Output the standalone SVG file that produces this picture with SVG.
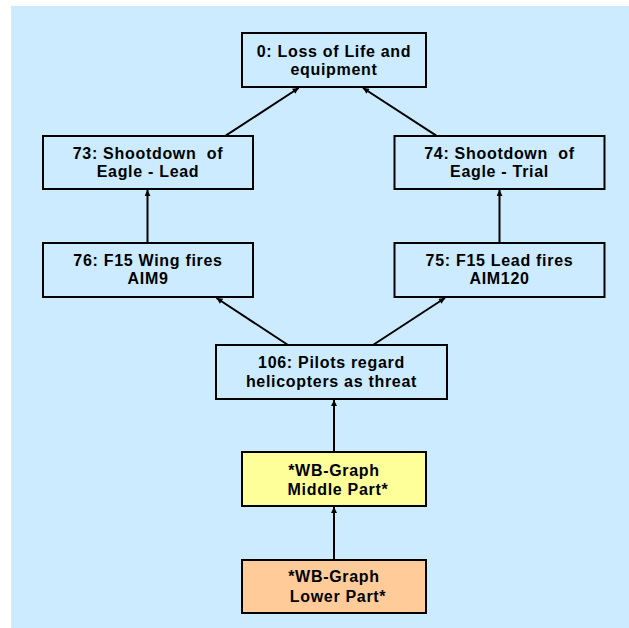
<svg xmlns="http://www.w3.org/2000/svg" width="629" height="628" viewBox="0 0 629 628">
<defs>
<style>
.bg{fill:#CCEBFF}
.box{fill:#CCEBFF;stroke:#000;stroke-width:2}
.yel{fill:#FFFF99;stroke:#000;stroke-width:2}
.org{fill:#FFCC99;stroke:#000;stroke-width:2}
text{font-family:"Liberation Sans",Arial,sans-serif;font-weight:bold;font-size:16px;letter-spacing:0.7px;text-anchor:middle;fill:#000;white-space:pre}
.edge{stroke:#000;stroke-width:2;fill:none;marker-end:url(#ah)}
</style>
<marker id="ah" viewBox="0 0 10 10" refX="10" refY="5" markerWidth="7" markerHeight="6" markerUnits="userSpaceOnUse" orient="auto">
<path d="M0,0 L10,5 L0,10 z" fill="#000"/>
</marker>
</defs>
<rect class="bg" x="11" y="6" width="618" height="622"/>
<g id="connectors">
<line class="edge" x1="225.7" y1="135.7" x2="298.7" y2="88"/>
<line class="edge" x1="436.3" y1="135.7" x2="363" y2="88"/>
<line class="edge" x1="147.5" y1="242.7" x2="147.5" y2="190"/>
<line class="edge" x1="499.5" y1="242.7" x2="499.5" y2="190"/>
<line class="edge" x1="288" y1="345" x2="216.5" y2="298"/>
<line class="edge" x1="373" y1="345" x2="445" y2="298"/>
<line class="edge" x1="334" y1="451.7" x2="334" y2="400"/>
<line class="edge" x1="334" y1="560" x2="334" y2="507"/>
</g>
<g id="n0">
<rect class="box" x="242" y="33" width="184" height="54"/>
<text x="334" y="57">0: Loss of Life and</text>
<text x="334" y="74.5">equipment</text>
</g>
<g id="n73">
<rect class="box" x="43" y="136" width="210" height="53"/>
<text x="148" y="159">73: Shootdown&#160; of</text>
<text x="148" y="176.8">Eagle - Lead</text>
</g>
<g id="n74">
<rect class="box" x="394.5" y="136" width="210" height="53"/>
<text x="499.5" y="159">74: Shootdown&#160; of</text>
<text x="499.5" y="176.8">Eagle - Trial</text>
</g>
<g id="n76">
<rect class="box" x="43" y="243" width="210" height="54"/>
<text x="148" y="266">76: F15 Wing fires</text>
<text x="148" y="284">AIM9</text>
</g>
<g id="n75">
<rect class="box" x="394.5" y="243" width="210" height="54"/>
<text x="499.5" y="266">75: F15 Lead fires</text>
<text x="499.5" y="284">AIM120</text>
</g>
<g id="n106">
<rect class="box" x="216" y="345" width="231" height="54"/>
<text x="331.5" y="368.3">106: Pilots regard</text>
<text x="331.5" y="386.7">helicopters as threat</text>
</g>
<g id="middle">
<rect class="yel" x="242" y="452" width="184" height="54"/>
<text x="334" y="476">*WB-Graph</text>
<text x="338" y="495">Middle Part*</text>
</g>
<g id="lower">
<rect class="org" x="242" y="560" width="184" height="53"/>
<text x="334" y="582.3">*WB-Graph</text>
<text x="338" y="602.3">Lower Part*</text>
</g>
</svg>
